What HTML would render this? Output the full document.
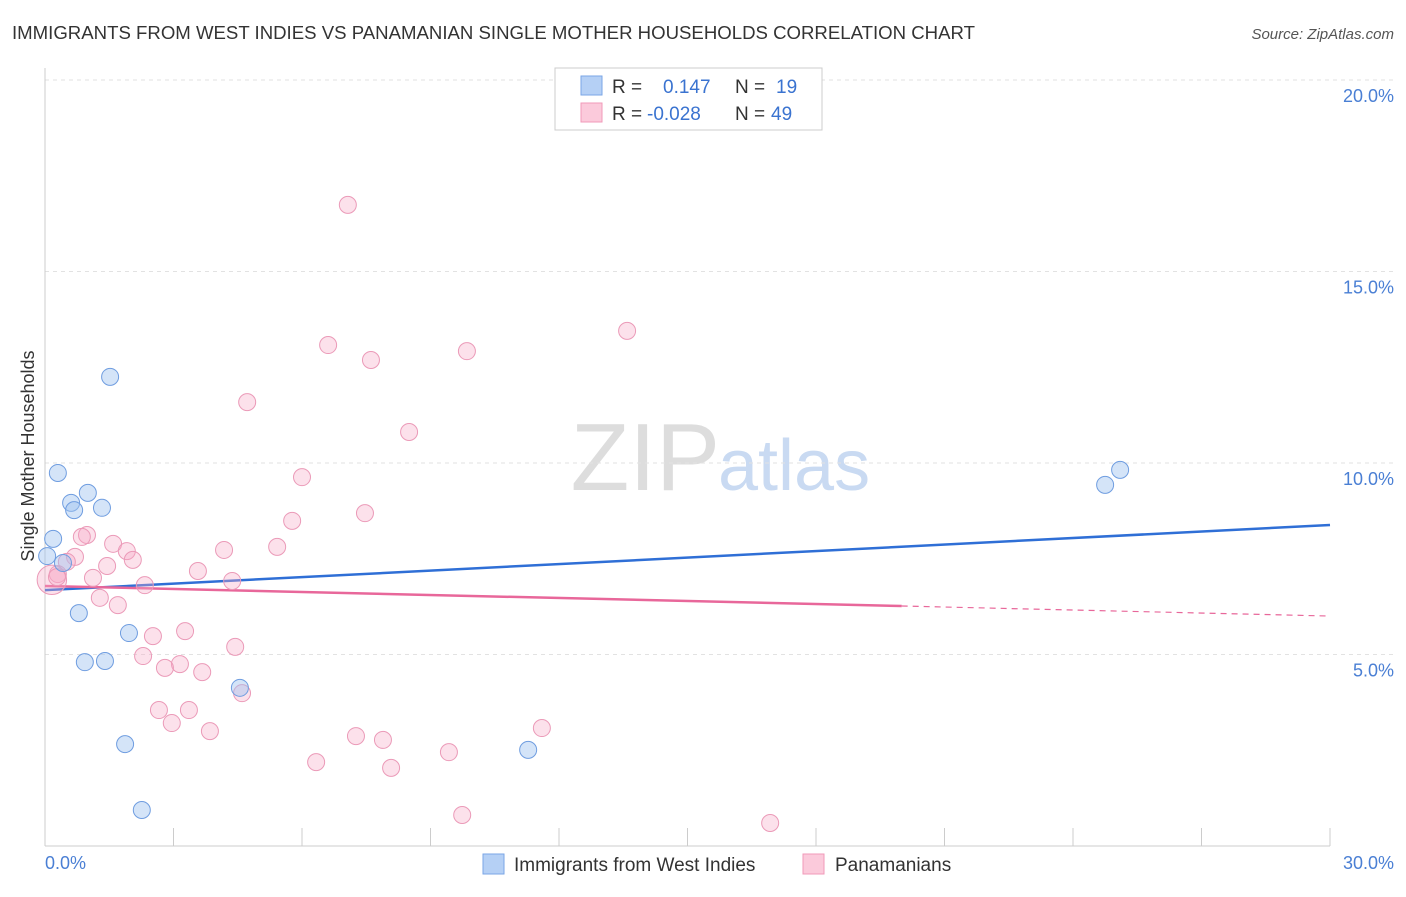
<!DOCTYPE html>
<html><head><meta charset="utf-8"><style>
body{margin:0;background:#fff;font-family:"Liberation Sans",sans-serif}
svg text{font-family:"Liberation Sans",sans-serif}
</style></head><body>
<svg id="c" width="1406" height="892">
<text x="12" y="39" font-size="18" fill="#333" textLength="963" lengthAdjust="spacingAndGlyphs">IMMIGRANTS FROM WEST INDIES VS PANAMANIAN SINGLE MOTHER HOUSEHOLDS CORRELATION CHART</text>
<text x="1394" y="39" font-size="15" fill="#555" font-style="italic" text-anchor="end">Source: ZipAtlas.com</text>
<text x="720" y="490" font-size="96" fill="#ddd" text-anchor="end" font-family="Liberation Serif">ZIP</text>
<text x="718" y="490" font-size="72" fill="#c9daf2">atlas</text>
<g id="grid"></g>
<line x1="45" y1="68" x2="45" y2="846" stroke="#ccc"/>
<line x1="45" y1="846" x2="1330" y2="846" stroke="#ccc"/>
<text transform="translate(34,456) rotate(-90)" font-size="18" fill="#333" text-anchor="middle">Single Mother Households</text>
<text x="45" y="869" font-size="18" fill="#4a7fd4">0.0%</text>
<text x="1394" y="869" font-size="18" fill="#4a7fd4" text-anchor="end">30.0%</text>
<g id="lines"></g>
<g id="pts"></g>
<g>
<rect x="555" y="68" width="267" height="62" fill="#fff" stroke="#ccc"/>
<rect x="581" y="76" width="21" height="19" fill="#b5d0f5" stroke="#7aa6e6"/>
<rect x="581" y="103" width="21" height="19" fill="#fbcadb" stroke="#f09ab8"/>
<text x="612" y="93" font-size="19" fill="#333">R =</text><text x="663" y="93" font-size="19" fill="#3a73d0">0.147</text>
<text x="735" y="93" font-size="19" fill="#333">N =</text><text x="776" y="93" font-size="19" fill="#3a73d0">19</text>
<text x="612" y="120" font-size="19" fill="#333">R =</text><text x="647" y="120" font-size="19" fill="#3a73d0">-0.028</text>
<text x="735" y="120" font-size="19" fill="#333">N =</text><text x="771" y="120" font-size="19" fill="#3a73d0">49</text>
</g>
<g>
<rect x="483" y="854" width="21" height="20" fill="#b5d0f5" stroke="#7aa6e6"/>
<text x="514" y="871" font-size="19" fill="#333">Immigrants from West Indies</text></g>
<g>
<rect x="803" y="854" width="21" height="20" fill="#fbcadb" stroke="#f09ab8"/>
<text x="835" y="871" font-size="19" fill="#333">Panamanians</text></g>
</svg>
<script>
const yTicks=[5,10,15,20];
const xTicks=[0,3,6,9,12,15,18,21,24,27,30];
const blueX=[1.52,0.30,0.61,1.00,0.68,1.33,0.19,0.05,0.42,0.79,1.96,0.93,1.40,4.55,1.87,2.26,11.28,24.75,25.10];
const blueY=[12.25,9.74,8.96,9.22,8.77,8.83,8.02,7.57,7.39,6.08,5.56,4.80,4.83,4.13,2.66,0.94,2.51,9.43,9.82];
const pinkX=[7.07,13.59,6.61,9.85,7.61,4.72,8.50,6.00,7.47,5.77,0.98,0.86,1.59,4.18,5.42,1.91,0.70,2.05,0.51,1.45,3.57,0.30,1.12,0.16,2.33,4.37,1.28,1.70,2.52,3.27,4.44,2.29,3.15,2.80,3.67,4.60,2.66,3.36,2.96,3.85,11.60,7.26,7.89,9.43,6.33,8.08,9.74,16.93,0.28];
const pinkY=[16.74,13.45,13.08,12.92,12.69,11.59,10.81,9.63,8.69,8.49,8.12,8.07,7.89,7.73,7.81,7.70,7.55,7.47,7.42,7.31,7.18,7.10,7.00,6.95,6.81,6.92,6.48,6.29,5.48,5.61,5.20,4.96,4.75,4.65,4.54,3.99,3.55,3.55,3.21,3.00,3.08,2.87,2.77,2.45,2.19,2.04,0.81,0.60,7.02];
const pinkWeight=[1,1,1,1,1,1,1,1,1,1,1,1,1,1,1,1,1,1,1,1,1,1,1,3,1,1,1,1,1,1,1,1,1,1,1,1,1,1,1,1,1,1,1,1,1,1,1,1,1];
const blueFit=[6.68,0.0567];
const pinkFit=[6.79,-0.0262];
const pinkSolidEnd=20;
const NS='http://www.w3.org/2000/svg';
const sx=v=>45+v/30*1285, sy=v=>846-v/5*191.5;
function mk(t,a,p){const e=document.createElementNS(NS,t);for(const k in a)e.setAttribute(k,a[k]);p.appendChild(e);return e;}
const g=document.getElementById('grid');
yTicks.forEach(t=>{
 const l=mk('line',{x1:45,x2:1394,y1:sy(t),y2:sy(t),stroke:'#e2e2e2','stroke-dasharray':'4,4'},g);
 
 
 const tx=mk('text',{x:1394,y:sy(t)+22,'font-size':18,fill:'#4a7fd4','text-anchor':'end'},g);
 tx.textContent=t.toFixed(1)+'%';
 
 
});
xTicks.forEach(t=>{
 const l=mk('line',{x1:sx(t),x2:sx(t),y1:828,y2:846,stroke:'#ccc'},g);
 
 
});
const L=document.getElementById('lines');
const bl=mk('line',{x1:sx(0),y1:sy(blueFit[0]),x2:sx(30),y2:sy(blueFit[0]+30*blueFit[1]),stroke:'#2f6fd6','stroke-width':2.5},L);


const pl=mk('line',{x1:sx(0),y1:sy(pinkFit[0]),x2:sx(pinkSolidEnd),y2:sy(pinkFit[0]+pinkSolidEnd*pinkFit[1]),stroke:'#e8679a','stroke-width':2.5},L);


const pd=mk('line',{x1:sx(pinkSolidEnd),y1:sy(pinkFit[0]+pinkSolidEnd*pinkFit[1]),x2:sx(30),y2:sy(pinkFit[0]+30*pinkFit[1]),stroke:'#e8679a','stroke-width':1.2,'stroke-dasharray':'6,5'},L);


const P=document.getElementById('pts');
pinkX.forEach((x,i)=>{
 const c=mk('circle',{cx:sx(x),cy:sy(pinkY[i]),r:8.5*Math.sqrt(pinkWeight[i]),fill:'rgba(246,170,198,0.35)',stroke:'#eb9ab8','stroke-width':1},P);
 
 
});
blueX.forEach((x,i)=>{
 const c=mk('circle',{cx:sx(x),cy:sy(blueY[i]),r:8.5,fill:'rgba(160,195,240,0.45)',stroke:'#6f9de0','stroke-width':1},P);
 
 
});
</script>
</body></html>
